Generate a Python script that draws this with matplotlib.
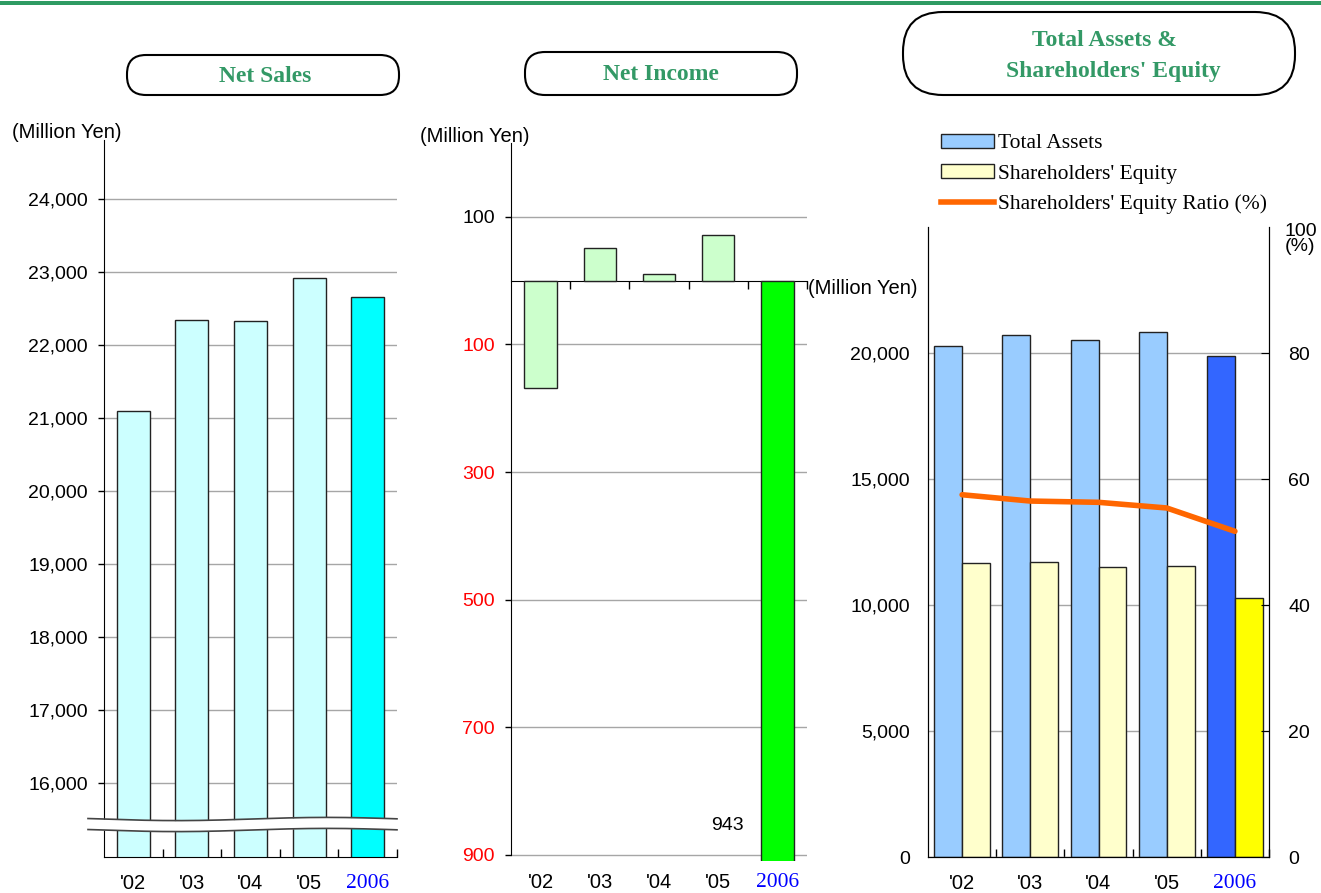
import numpy as np
import matplotlib
matplotlib.use("Agg")
import matplotlib.pyplot as plt
from matplotlib.patches import FancyBboxPatch, Rectangle, Patch
from matplotlib.lines import Line2D
from matplotlib.ticker import FuncFormatter

# data
years = ["'02", "'03", "'04", "'05", "2006"]
net_sales = [21100, 22340, 22330, 22920, 22660]
net_income = [-168, 52, 11, 72, -943]
total_assets = [20280, 20710, 20520, 20830, 19880]
equity = [11670, 11710, 11510, 11550, 10280]
equity_ratio = [57.5, 56.5, 56.3, 55.4, 51.7]

sales_ticks = [16000, 17000, 18000, 19000, 20000, 21000, 22000, 23000, 24000]
income_ticks = [100, -100, -300, -500, -700, -900]
assets_ticks = [0, 5000, 10000, 15000, 20000]
ratio_ticks = [0, 20, 40, 60, 80]

SANS = "Liberation Sans"
SERIF = "Liberation Serif"
GREEN = "#339966"
GRID = "#a6a6a6"
plt.rcParams['font.family'] = [SANS, 'DejaVu Sans']

W, H = 1321, 893
fig = plt.figure(figsize=(W / 100, H / 100), dpi=100)
x = np.arange(len(years))


def style_years(ax):
    for lbl in ax.get_xticklabels():
        if lbl.get_text() == "2006":
            lbl.set_color("#0000ff")
            lbl.set_family(SERIF)
            lbl.set_fontsize(15.5)


def common(ax):
    ax.set_xlim(-0.5, len(years) - 0.5)
    ax.spines['top'].set_visible(False)
    ax.set_axisbelow(True)
    ax.grid(axis='y', color=GRID, lw=1)
    ax.tick_params(axis='y', labelsize=14, length=4, width=1, direction='out', pad=7.5)
    ax.set_xticks(x)
    ax.set_xticklabels(years)
    ax.tick_params(axis='x', which='major', length=0, labelsize=14.5)
    ax.set_xticks(np.arange(len(years)) + 0.5, minor=True)
    ax.tick_params(axis='x', which='minor', direction='in', length=6, width=1)


# ---- Net Sales ----
ax1 = fig.add_axes([104 / W, 1 - 857 / H, 293 / W, 717 / H])
c1 = ["#ccffff"] * 4 + ["#00ffff"]
ax1.bar(x, net_sales, width=0.56, color=c1, edgecolor="#222222", lw=1)
ax1.set_ylim(14990, 24810)
ax1.set_yticks(sales_ticks)
ax1.yaxis.set_major_formatter(FuncFormatter(lambda v, p: f"{int(v):,}"))
common(ax1)
ax1.spines['right'].set_visible(False)
ax1.tick_params(axis='x', which='major', pad=12)
style_years(ax1)

# ---- Net Income ----
ax2 = fig.add_axes([511 / W, 1 - 861 / H, 296 / W, 718 / H])
c2 = ["#ccffcc"] * 4 + ["#00ff00"]
ax2.bar(x, net_income, width=0.55, color=c2, edgecolor="#222222", lw=1)
ymin2, ymax2 = -910, 216
ax2.set_ylim(ymin2, ymax2)
ax2.set_yticks(income_ticks)
ax2.set_yticklabels([str(abs(v)) for v in income_ticks])
for lbl, v in zip(ax2.get_yticklabels(), income_ticks):
    lbl.set_color("red" if v < 0 else "black")
common(ax2)
ax2.spines['right'].set_visible(False)
ax2.spines['bottom'].set_visible(False)
ax2.spines['left'].set_bounds(-900, ymax2)
ax2.set_xticks([], minor=True)
ax2.tick_params(axis='x', which='major', pad=8.5)
sec = ax2.secondary_xaxis((0 - ymin2) / (ymax2 - ymin2))
sec.set_xticks([])
sec.set_xticks(np.arange(len(years)) + 0.5, minor=True)
sec.tick_params(axis='x', which='minor', direction='in', length=6, width=1)
sec.spines['bottom'].set_color("#222222")
style_years(ax2)
ax2.text(3.44, net_income[-1] + 88, f"{abs(net_income[-1])}", ha='right', va='center',
         fontsize=14)

# ---- Total Assets & Shareholders' Equity ----
ax3 = fig.add_axes([928 / W, 1 - 857 / H, 341 / W, 630 / H])
bw = 0.41
ca = ["#99ccff"] * 4 + ["#3366ff"]
ce = ["#ffffcc"] * 4 + ["#ffff00"]
ax3.bar(x - bw / 2, total_assets, width=bw, color=ca, edgecolor="#222222", lw=1)
ax3.bar(x + bw / 2, equity, width=bw, color=ce, edgecolor="#222222", lw=1)
ax3.set_ylim(0, 25000)
ax3.set_yticks(assets_ticks)
ax3.yaxis.set_major_formatter(FuncFormatter(lambda v, p: f"{int(v):,}"))
common(ax3)
ax3.tick_params(axis='y', length=0, pad=13)
ax3.tick_params(axis='x', which='major', pad=12)
style_years(ax3)
ax3b = ax3.twinx()
ax3b.plot(x, equity_ratio, color="#ff6600", lw=4, solid_capstyle='round')
ax3b.set_ylim(0, 100)
ax3b.set_yticks(ratio_ticks)
ax3b.tick_params(axis='y', labelsize=14, length=6, direction='in', pad=14)
ax3b.spines['top'].set_visible(False)
ax3b.text(1.045, 0.981, "100\n(%)", transform=ax3b.transAxes, ha='left', va='center',
          fontsize=14, linespacing=0.85)

handles = [Patch(facecolor="#99ccff", edgecolor="#222222"),
           Patch(facecolor="#ffffcc", edgecolor="#222222"),
           Line2D([], [], color="#ff6600", lw=4)]
labels = ["Total Assets", "Shareholders' Equity", "Shareholders' Equity Ratio (%)"]
fig.legend(handles, labels, loc='upper left', bbox_to_anchor=(941 / W, 1 - 134 / H),
           frameon=False, prop={'family': SERIF, 'size': 15.5}, handlelength=2.45,
           handleheight=0.6, handletextpad=0.2, labelspacing=0.5, borderpad=0,
           borderaxespad=0)

# ---- overlay: headers, boxes, axis break ----
ov = fig.add_axes([0, 0, 1, 1])
ov.set_xlim(0, W)
ov.set_ylim(H, 0)
ov.axis('off')
ov.add_patch(Rectangle((0, 1), W, 4, color="#2e9b63", lw=0))
for (bx, by, bwid, bh, r) in [(127, 55, 272, 40, 19), (525, 52, 272, 43, 20),
                              (903, 12, 392, 83, 40)]:
    ov.add_patch(FancyBboxPatch((bx, by), bwid, bh, boxstyle=f"round,pad=0,rounding_size={r}",
                                facecolor='white', edgecolor='black', lw=1.5))
tkw = dict(ha='center', va='center', color=GREEN, fontweight='bold', family=SERIF, fontsize=17)
ov.text(265, 76, "Net Sales", **tkw)
ov.text(661, 74, "Net Income", **tkw)
ov.text(1104, 41, "Total Assets &", **tkw)
ov.text(1113, 71, "Shareholders' Equity", **tkw)

ov.text(12, 132, "(Million Yen)", ha='left', va='center', fontsize=14.5)
ov.text(420, 136, "(Million Yen)", ha='left', va='center', fontsize=14.5)
ov.text(808, 288, "(Million Yen)", ha='left', va='center', fontsize=14.5)

wx = np.linspace(88, 397, 200)
wave = 1.6 * np.sin(2 * np.pi * (wx - 88) / 300 - 0.3)
ov.fill_between(wx, 819 + wave, 830 + wave, color='white', lw=0, zorder=3)
ov.plot(wx, 819 + wave, color="#444444", lw=1.2, zorder=4)
ov.plot(wx, 830 + wave, color="#444444", lw=1.2, zorder=4)

fig.savefig("out.png", dpi=100)
